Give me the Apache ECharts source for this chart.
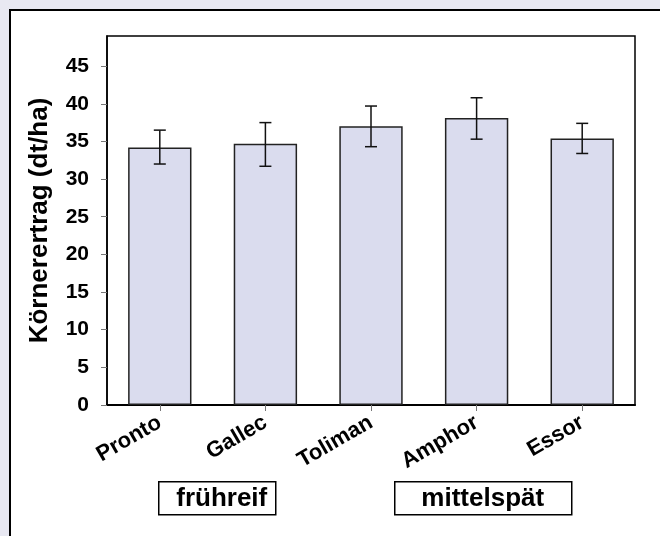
<!DOCTYPE html>
<html>
<head>
<meta charset="utf-8">
<script src="https://cdn.jsdelivr.net/npm/echarts@6/dist/echarts.min.js"></script>
<style>
  html, body { margin: 0; padding: 0; }
  #main { width: 660px; height: 536px; }
</style>
</head>
<body>
<div id="main"></div>
<script>
  var sorten = ['Pronto', 'Gallec', 'Toliman', 'Amphor', 'Essor'];
  var ertrag = [34.2, 34.7, 37.0, 38.1, 35.4];
  var fehlerOben = [36.5, 37.5, 39.7, 40.8, 37.4];
  var fehlerUnten = [32.0, 31.7, 34.3, 35.3, 33.4];
  var gruppen = ['frühreif', 'mittelspät'];

  var myChart = echarts.init(document.getElementById('main'));
  var font = 'Arial, "Liberation Sans", sans-serif';

  // Fehlerbalken: [index, unten, oben]
  var errData = sorten.map(function (s, i) {
    return [i, fehlerUnten[i], fehlerOben[i]];
  });

  function renderError(params, api) {
    var lo = api.coord([api.value(0), api.value(1)]);
    var hi = api.coord([api.value(0), api.value(2)]);
    var half = 6;
    var style = { stroke: '#111', lineWidth: 1.5 };
    return {
      type: 'group',
      children: [
        { type: 'line', shape: { x1: hi[0], y1: hi[1], x2: lo[0], y2: lo[1] }, style: style },
        { type: 'line', shape: { x1: hi[0] - half, y1: hi[1], x2: hi[0] + half, y2: hi[1] }, style: style },
        { type: 'line', shape: { x1: lo[0] - half, y1: lo[1], x2: lo[0] + half, y2: lo[1] }, style: style }
      ]
    };
  }

  var option = {
    backgroundColor: '#e8e8f2',
    animation: false,
    graphic: [
      {
        type: 'rect', z: -10, silent: true,
        shape: { x: 10, y: 10, width: 660, height: 540 },
        style: { fill: '#fff', stroke: '#000', lineWidth: 2 }
      },
      {
        type: 'group', left: 158, top: 481,
        children: [
          { type: 'rect', shape: { x: 0, y: 0, width: 117, height: 33 }, style: { fill: '#fff', stroke: '#000', lineWidth: 1.5 } },
          { type: 'text', x: 63, y: 17, style: { text: gruppen[0], fill: '#000', font: 'bold 26px ' + font, align: 'center', verticalAlign: 'middle' } }
        ]
      },
      {
        type: 'group', left: 394, top: 481,
        children: [
          { type: 'rect', shape: { x: 0, y: 0, width: 177, height: 33 }, style: { fill: '#fff', stroke: '#000', lineWidth: 1.5 } },
          { type: 'text', x: 88, y: 17, style: { text: gruppen[1], fill: '#000', font: 'bold 26px ' + font, align: 'center', verticalAlign: 'middle' } }
        ]
      }
    ],
    grid: {
      left: 107, right: 25, top: 36, bottom: 131,
      show: true, backgroundColor: '#fff', borderColor: '#000', borderWidth: 1.5
    },
    xAxis: {
      type: 'category',
      data: sorten,
      axisLine: { lineStyle: { color: '#000', width: 2 } },
      axisTick: { show: true, alignWithLabel: true, length: 6, lineStyle: { color: '#777' } },
      axisLabel: {
        rotate: 30, margin: 16, color: '#000',
        fontFamily: font, fontWeight: 'bold', fontSize: 22
      }
    },
    yAxis: {
      type: 'value',
      min: 0, max: 49, interval: 5,
      name: 'Körnerertrag (dt/ha)',
      nameLocation: 'middle',
      nameGap: 54,
      nameTextStyle: { color: '#000', fontFamily: font, fontWeight: 'bold', fontSize: 26 },
      splitLine: { show: false },
      axisLine: { show: true, lineStyle: { color: '#000', width: 1.5 } },
      axisTick: { show: true, length: 6, lineStyle: { color: '#777' } },
      axisLabel: {
        showMaxLabel: false, margin: 18, color: '#000',
        fontFamily: font, fontWeight: 'bold', fontSize: 21
      }
    },
    series: [
      {
        type: 'bar',
        data: ertrag,
        barWidth: '60%',
        itemStyle: { color: '#dadcee', borderColor: '#222', borderWidth: 1.5 }
      },
      {
        type: 'custom',
        renderItem: renderError,
        data: errData,
        encode: { x: 0, y: [1, 2] },
        z: 10
      }
    ]
  };
  myChart.setOption(option);
</script>
</body>
</html>
